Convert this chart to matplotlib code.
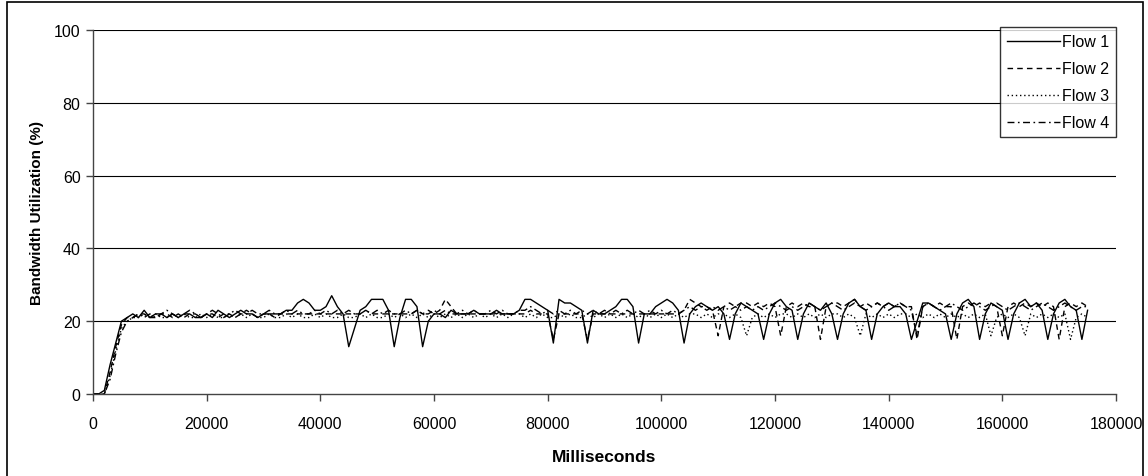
import matplotlib
matplotlib.use("Agg")
import matplotlib.pyplot as plt
from matplotlib.patches import Rectangle

plt.rcParams['font.family'] = ['Liberation Sans', 'DejaVu Sans']

step_ms = 1000
flow1 = [0, 0, 1, 8, 14, 20, 21, 22, 21, 23, 21, 22, 22, 21, 22, 21, 22, 22, 21, 21,
         22, 21, 23, 22, 21, 22, 23, 22, 22, 21, 22, 22, 22, 22, 23, 23, 25, 26, 25, 23,
         23, 24, 27, 24, 22, 13, 18, 23, 24, 26, 26, 26, 23, 13, 21, 26, 26, 24, 13, 20,
         22, 22, 21, 23, 22, 22, 22, 23, 22, 22, 22, 23, 22, 22, 22, 23, 26, 26, 25, 24,
         23, 14, 26, 25, 25, 24, 23, 14, 23, 22, 22, 23, 24, 26, 26, 24, 14, 22, 22, 24,
         25, 26, 25, 23, 14, 22, 24, 25, 24, 23, 24, 22, 15, 22, 25, 24, 23, 22, 15, 22,
         25, 26, 24, 23, 15, 22, 25, 24, 23, 25, 22, 15, 22, 25, 26, 24, 23, 15, 22, 24,
         25, 24, 24, 22, 15, 20, 25, 25, 24, 23, 22, 15, 22, 25, 26, 24, 15, 22, 25, 24,
         23, 15, 22, 25, 26, 24, 25, 23, 15, 22, 25, 26, 24, 23, 15, 23]
flow2 = [0, 0, 0, 6, 13, 19, 21, 21, 22, 22, 21, 21, 22, 22, 21, 22, 21, 22, 22, 21,
         22, 22, 21, 22, 22, 21, 22, 23, 22, 21, 22, 22, 21, 22, 22, 22, 22, 22, 22, 22,
         22, 22, 22, 22, 22, 22, 22, 22, 23, 22, 22, 22, 22, 22, 22, 22, 22, 23, 22, 23,
         22, 23, 26, 24, 22, 22, 22, 22, 22, 22, 22, 22, 22, 22, 22, 22, 22, 23, 22, 22,
         22, 15, 22, 22, 22, 22, 22, 15, 22, 22, 22, 22, 22, 22, 22, 22, 22, 22, 22, 22,
         22, 22, 22, 22, 23, 26, 25, 24, 24, 23, 16, 24, 25, 24, 25, 25, 24, 25, 24, 25,
         24, 16, 24, 25, 24, 25, 24, 24, 15, 24, 25, 25, 24, 25, 26, 24, 25, 24, 25, 24,
         25, 24, 25, 24, 24, 15, 24, 25, 24, 25, 24, 24, 15, 24, 25, 24, 25, 24, 25, 24,
         16, 24, 25, 24, 25, 24, 25, 24, 25, 24, 15, 24, 25, 24, 25, 24]
flow3 = [0, 0, 0, 5, 12, 18, 20, 21, 21, 22, 21, 22, 21, 21, 22, 21, 22, 21, 21, 22,
         21, 22, 21, 21, 22, 21, 22, 21, 22, 21, 21, 22, 21, 21, 22, 21, 22, 21, 21, 22,
         21, 22, 21, 21, 22, 21, 21, 22, 21, 22, 21, 21, 22, 21, 22, 21, 22, 21, 22, 21,
         22, 21, 22, 21, 22, 21, 22, 21, 22, 21, 22, 21, 22, 21, 22, 22, 21, 22, 21, 22,
         21, 21, 22, 21, 22, 21, 21, 22, 21, 22, 21, 22, 21, 22, 21, 22, 21, 22, 21, 22,
         21, 22, 21, 22, 21, 22, 22, 21, 22, 21, 22, 22, 21, 22, 21, 16, 21, 22, 21, 22,
         21, 22, 22, 21, 22, 21, 22, 21, 22, 21, 22, 22, 21, 22, 21, 16, 22, 21, 22, 21,
         22, 21, 22, 22, 21, 22, 21, 22, 21, 22, 21, 22, 21, 22, 21, 22, 21, 22, 16, 21,
         22, 21, 22, 21, 16, 22, 21, 22, 21, 22, 21, 22, 15, 21, 22, 21]
flow4 = [0, 0, 0, 4, 11, 17, 20, 21, 22, 21, 22, 21, 22, 23, 22, 21, 22, 23, 22, 21,
         22, 23, 22, 21, 22, 23, 22, 22, 23, 22, 22, 23, 22, 22, 23, 22, 23, 22, 22, 23,
         22, 23, 22, 23, 22, 23, 22, 22, 23, 22, 23, 22, 23, 22, 22, 23, 22, 23, 22, 22,
         23, 22, 23, 22, 22, 23, 22, 23, 22, 22, 23, 22, 23, 22, 22, 23, 23, 24, 23, 22,
         23, 22, 23, 22, 23, 22, 23, 22, 23, 22, 23, 22, 23, 22, 23, 22, 23, 22, 23, 22,
         23, 22, 23, 22, 23, 24, 23, 24, 23, 24, 23, 24, 23, 24, 23, 24, 23, 24, 23, 24,
         25, 24, 23, 24, 23, 24, 25, 24, 23, 24, 25, 24, 23, 24, 25, 24, 23, 24, 25, 24,
         23, 24, 25, 24, 23, 16, 24, 25, 24, 23, 24, 25, 24, 23, 24, 25, 24, 23, 24, 25,
         24, 23, 24, 25, 24, 23, 24, 25, 24, 23, 24, 25, 24, 23, 24, 24]
series_names = ["Flow 1", "Flow 2", "Flow 3", "Flow 4"]
x_ticks = [0, 20000, 40000, 60000, 80000, 100000, 120000, 140000, 160000, 180000]
y_ticks = [0, 20, 40, 60, 80, 100]

fig = plt.figure(figsize=(11.48, 4.77), dpi=100)
ax = fig.add_axes([93/1148, 1-395/477, (1116-93)/1148, (395-31)/477])

styles = [dict(linestyle='-'),
          dict(linestyle=(0, (4, 3))),
          dict(linestyle=(0, (1, 2))),
          dict(linestyle=(0, (5, 2.5, 1.2, 2.5)))]
for name, vals, st in zip(series_names, [flow1, flow2, flow3, flow4], styles):
    xs = [i * step_ms for i in range(len(vals))]
    ax.plot(xs, vals, color='black', lw=1.0, label=name, **st)

ax.set_xlim(0, 180000)
ax.set_ylim(0, 100)
ax.set_xticks(x_ticks)
ax.set_xticklabels([str(t) for t in x_ticks])
ax.set_yticks(y_ticks)
for y in y_ticks[1:]:
    ax.axhline(y, color='black', lw=0.8, zorder=0)
for s in ['top', 'right']:
    ax.spines[s].set_visible(False)
for s in ['left', 'bottom']:
    ax.spines[s].set_color('#444444')
    ax.spines[s].set_linewidth(1.0)
ax.tick_params(axis='both', direction='out', length=5, width=1, color='#444444',
               labelsize=11.5)
ax.tick_params(axis='x', pad=11)
ax.tick_params(axis='y', pad=4)
ax.set_xlabel('Milliseconds', fontsize=12.5, fontweight='bold', labelpad=13)
ax.set_ylabel('Bandwidth Utilization (%)', fontsize=11, fontweight='bold', labelpad=7)

leg = ax.legend(loc='upper right', bbox_to_anchor=(1.0, 1.0 + 3/364), frameon=True, fancybox=False,
                edgecolor='black', fontsize=11.5, handlelength=3.3, handletextpad=0.1,
                borderpad=0.45, labelspacing=0.75, borderaxespad=0)
leg.get_frame().set_linewidth(1.0)

fig.patches.append(Rectangle((7/1148, -0.1), (1143-7)/1148, 1.1 - 3/477, transform=fig.transFigure,
                             fill=False, edgecolor='black', lw=1.2))

fig.savefig('out.png', dpi=100)
